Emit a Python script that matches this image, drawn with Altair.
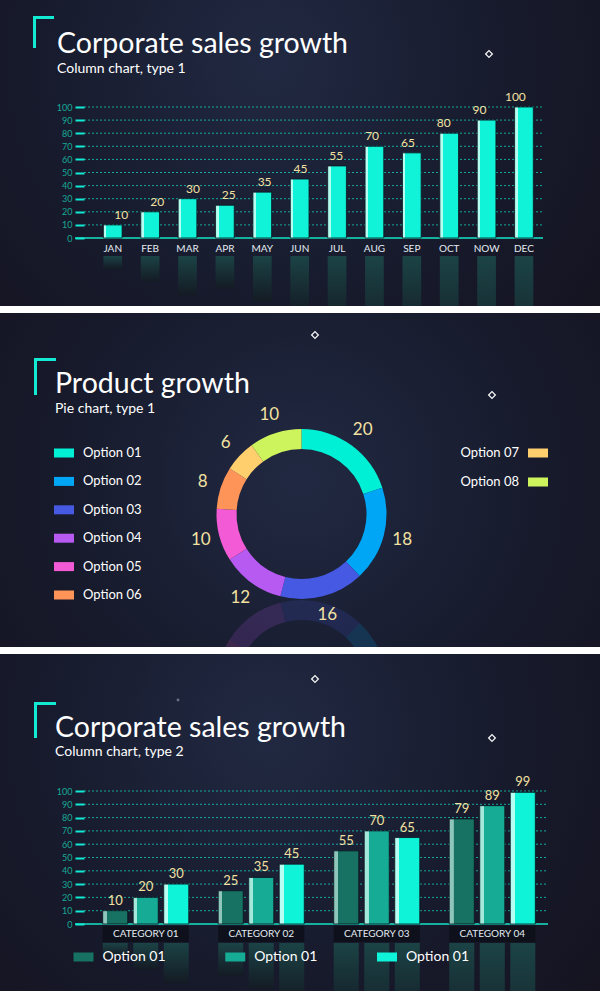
import math
import altair as alt
import pandas as pd

# ---------------- data ----------------
months = ["JAN", "FEB", "MAR", "APR", "MAY", "JUN", "JUL", "AUG", "SEP", "OCT", "NOW", "DEC"]
monthly_sales = [10, 20, 30, 25, 35, 45, 55, 70, 65, 80, 90, 100]
y_ticks = [0, 10, 20, 30, 40, 50, 60, 70, 80, 90, 100]

pie_options = ["Option 01", "Option 02", "Option 03", "Option 04",
               "Option 05", "Option 06", "Option 07", "Option 08"]
pie_values = [20, 18, 16, 12, 10, 8, 6, 10]
pie_colors = ["#00f0d6", "#00a6f6", "#4559e3", "#b65af2",
              "#f25ad6", "#ff9459", "#ffcf6e", "#cdf45d"]
legend_left = pie_options[:6]
legend_right = pie_options[6:]

categories = ["CATEGORY 01", "CATEGORY 02", "CATEGORY 03", "CATEGORY 04"]
series_ids = ["S1", "S2", "S3"]
series_labels = ["Option 01", "Option 01", "Option 01"]
series_s1 = [10, 25, 55, 79]
series_s2 = [20, 35, 70, 89]
series_s3 = [30, 45, 65, 99]
series_colors = ["#177263", "#15ab95", "#0ff3d8"]
series_light = ["#8fc6bc", "#a3e8da", "#b6fff2"]

# ---------------- style ----------------
FONT = "Lato"
TEAL = "#13ead4"
AXIS_LABEL = "#17a896"
VALUE_COLOR = "#f3e1a2"
W = 600
H1, H2, H3 = 306, 334, 337
TITLE_SIZE = 28.5


def bg(h, cx=0.45, cy=0.35):
    grad = {"gradient": "radial", "x1": cx, "y1": cy, "r1": 0, "x2": cx, "y2": cy, "r2": 0.75,
            "stops": [{"offset": 0, "color": "#212942"},
                      {"offset": 0.5, "color": "#171b2d"},
                      {"offset": 1, "color": "#15121e"}]}
    return alt.Chart(pd.DataFrame({"k": [0]})).mark_rect(fill=grad).encode(
        x=alt.value(0), x2=alt.value(W), y=alt.value(0), y2=alt.value(h))


def text_layer(txt, x, y, size, color="white", align="left", weight="normal"):
    return alt.Chart(pd.DataFrame({"t": [txt]})).mark_text(
        align=align, baseline="alphabetic", font=FONT, fontSize=size, color=color,
        fontWeight=weight).encode(x=alt.value(x), y=alt.value(y), text="t:N")


def bracket(x, y1, y2, x2):
    one = pd.DataFrame({"k": [0]})
    v = alt.Chart(one).mark_rule(color=TEAL, strokeWidth=3).encode(
        x=alt.value(x), y=alt.value(y1), y2=alt.value(y2))
    h = alt.Chart(one).mark_rule(color=TEAL, strokeWidth=3).encode(
        x=alt.value(x - 1.5), x2=alt.value(x2), y=alt.value(y1 + 1.5))
    return [v, h]


def diamond(x, y):
    return alt.Chart(pd.DataFrame({"k": [0]})).mark_point(
        shape="diamond", filled=False, color="white", strokeWidth=1.3, size=45, opacity=0.95
    ).encode(x=alt.value(x), y=alt.value(y))


def bar_grad(light, main, frac):
    return {"gradient": "linear", "x1": 0, "x2": 1, "y1": 0, "y2": 0,
            "stops": [{"offset": 0, "color": light}, {"offset": frac, "color": light},
                      {"offset": frac + 0.001, "color": main}, {"offset": 1, "color": main}]}


refl_grad = {"gradient": "linear", "x1": 0, "x2": 0, "y1": 0, "y2": 1,
             "stops": [{"offset": 0, "color": "#1b4345"}, {"offset": 1, "color": "#141a24"}]}


def y_axis():
    return alt.Axis(values=y_ticks, offset=-84, domain=False, grid=False, tickColor=TEAL,
                    tickWidth=2, tickSize=9, labelColor=AXIS_LABEL, labelFontSize=9,
                    labelFont=FONT, labelPadding=3, title=None, zindex=1)


# ---------------- panel 1 ----------------
df1 = pd.DataFrame({"month": months, "sales": monthly_sales})
ticks_df = pd.DataFrame({"v": y_ticks})
ys1 = alt.Scale(domain=[0, 100], range=[238, 107], nice=False)
xs1 = alt.Scale(domain=months, range=[103.4, 533.3], paddingInner=0.5, paddingOuter=0)

grid1 = alt.Chart(ticks_df).mark_rule(color="#18bfae", strokeDash=[2, 2], strokeWidth=1, opacity=0.85).encode(
    y=alt.Y("v:Q", scale=ys1, axis=y_axis()), x=alt.value(84), x2=alt.value(543))
base1 = alt.Chart(pd.DataFrame({"v": [0]})).mark_rule(color="#16b09e", strokeWidth=2).encode(
    y=alt.Y("v:Q", scale=ys1, axis=None), x=alt.value(75), x2=alt.value(543))
bars1 = alt.Chart(df1).mark_bar(fill=bar_grad("#b4fff2", "#10f3d8", 0.16), stroke="#0a1520", strokeWidth=0.8).encode(
    x=alt.X("month:N", scale=xs1, axis=alt.Axis(offset=-(H1 - 238), domain=False, ticks=False, tickSize=0,
                                                labelPadding=5, labelColor="#e4ecf2", labelFontSize=10,
                                                labelFont=FONT, labelAngle=0, title=None, zindex=1)),
    y=alt.Y("sales:Q", scale=ys1, axis=None))
vals1 = alt.Chart(df1).mark_text(baseline="bottom", dy=-3, color=VALUE_COLOR, fontSize=12, font=FONT).encode(
    x=alt.X("month:N", scale=xs1, axis=None), y=alt.Y("sales:Q", scale=ys1, axis=None), text="sales:Q")
refl1 = alt.Chart(df1).mark_bar(fill=refl_grad, clip=True).encode(
    x=alt.X("month:N", scale=xs1, axis=None),
    y=alt.Y("sales:Q", scale=alt.Scale(domain=[0, 100], range=[256, 387], nice=False), axis=None))

p1 = alt.layer(
    bg(H1), grid1, base1, refl1, bars1, vals1,
    *bracket(34.5, 16, 48, 54),
    text_layer("Corporate sales growth", 57, 53, TITLE_SIZE),
    text_layer("Column chart, type 1", 57, 73, 14),
    diamond(489, 54),
).resolve_scale(x="independent", y="independent").properties(width=W, height=H1)

# ---------------- panel 2 ----------------
pie_df = pd.DataFrame({"option": pie_options, "value": pie_values})
cscale = alt.Scale(domain=pie_options, range=pie_colors)
CX, CY = 301.5, 201

donut = alt.Chart(pie_df).mark_arc(innerRadius=65, outerRadius=85).encode(
    theta=alt.Theta("value:Q", stack=True),
    color=alt.Color("option:N", scale=cscale, legend=None),
    order=alt.Order("option:N", sort="ascending"),
    x=alt.value(CX), y=alt.value(CY))
donut_refl = alt.Chart(pie_df).mark_arc(innerRadius=65, outerRadius=85, opacity=0.17, clip=True).encode(
    theta=alt.Theta("value:Q", stack=True, scale=alt.Scale(range=[math.pi, -math.pi])),
    color=alt.Color("option:N", scale=cscale, legend=None),
    order=alt.Order("option:N", sort="ascending"),
    x=alt.value(CX), y=alt.value(372))
pie_labels = alt.Chart(pie_df).mark_text(radius=104, fontSize=17, color=VALUE_COLOR, font=FONT).encode(
    theta=alt.Theta("value:Q", stack=True),
    detail="option:N",
    order=alt.Order("option:N", sort="ascending"),
    text="value:Q",
    x=alt.value(CX), y=alt.value(CY))

ll_df = pd.DataFrame({"option": legend_left})
lr_df = pd.DataFrame({"option": legend_right})
yl = alt.Scale(type="point", domain=legend_left, range=[140, 282], padding=0)
yr = alt.Scale(type="point", domain=legend_right, range=[140, 169], padding=0)
sq_l = alt.Chart(ll_df).mark_tick(orient="horizontal", thickness=9, size=20, opacity=1).encode(
    x=alt.value(64), y=alt.Y("option:N", scale=yl, axis=None),
    color=alt.Color("option:N", scale=cscale, legend=None))
tx_l = alt.Chart(ll_df).mark_text(align="left", baseline="middle", fontSize=13, color="white", font=FONT).encode(
    x=alt.value(83), y=alt.Y("option:N", scale=yl, axis=None), text="option:N")
sq_r = alt.Chart(lr_df).mark_tick(orient="horizontal", thickness=9, size=20, opacity=1).encode(
    x=alt.value(538), y=alt.Y("option:N", scale=yr, axis=None),
    color=alt.Color("option:N", scale=cscale, legend=None))
tx_r = alt.Chart(lr_df).mark_text(align="right", baseline="middle", fontSize=13, color="white", font=FONT).encode(
    x=alt.value(519), y=alt.Y("option:N", scale=yr, axis=None), text="option:N")

p2 = alt.layer(
    bg(H2, 0.5, 0.5), donut_refl, donut, pie_labels, sq_l, tx_l, sq_r, tx_r,
    *bracket(35.5, 45, 82, 56),
    text_layer("Product growth", 55, 80, TITLE_SIZE),
    text_layer("Pie chart, type 1", 55, 100, 14),
    diamond(315, 22), diamond(492, 82),
).resolve_scale(x="independent", y="independent", theta="independent", color="shared").properties(width=W, height=H2)

# ---------------- panel 3 ----------------
rows = []
for sid, vals in zip(series_ids, [series_s1, series_s2, series_s3]):
    for cat, v in zip(categories, vals):
        rows.append({"category": cat, "series": sid, "value": v})
df3 = pd.DataFrame(rows)
cat_df = pd.DataFrame({"category": categories})
leg3_df = pd.DataFrame({"series": series_ids, "label": series_labels})

ys3 = alt.Scale(domain=[0, 100], range=[270, 137], nice=False)
xs3 = alt.Scale(domain=categories, range=[102.7, 535.3], paddingInner=0.255, paddingOuter=0)
xo3 = alt.Scale(domain=series_ids, paddingInner=0.18, paddingOuter=0)

grid3 = alt.Chart(ticks_df).mark_rule(color="#18bfae", strokeDash=[2, 2], strokeWidth=1, opacity=0.85).encode(
    y=alt.Y("v:Q", scale=ys3, axis=y_axis()), x=alt.value(84), x2=alt.value(548))
base3 = alt.Chart(pd.DataFrame({"v": [0]})).mark_rule(color="#16b09e", strokeWidth=2).encode(
    y=alt.Y("v:Q", scale=ys3, axis=None), x=alt.value(75), x2=alt.value(548))
catband = alt.Chart(cat_df).mark_bar(color="#0d0f19", opacity=0.85).encode(
    x=alt.X("category:N", scale=xs3, axis=alt.Axis(offset=-(H3 - 270), domain=False, ticks=False, tickSize=0,
                                                   labelPadding=4, labelColor="#e4ecf2", labelFontSize=10,
                                                   labelFont=FONT, labelAngle=0, title=None, zindex=1)),
    y=alt.value(272), y2=alt.value(288))
refl3 = alt.Chart(df3).mark_bar(fill=refl_grad, clip=True).encode(
    x=alt.X("category:N", scale=xs3, axis=None),
    xOffset=alt.XOffset("series:N", scale=xo3),
    y=alt.Y("value:Q", scale=alt.Scale(domain=[0, 100], range=[289, 422], nice=False), axis=None))
bars3 = []
for sid, main, light in zip(series_ids, series_colors, series_light):
    bars3.append(
        alt.Chart(df3).transform_filter(alt.datum.series == sid).mark_bar(
            fill=bar_grad(light, main, 0.17), stroke="#0a1520", strokeWidth=0.8).encode(
            x=alt.X("category:N", scale=xs3, axis=None),
            xOffset=alt.XOffset("series:N", scale=xo3),
            y=alt.Y("value:Q", scale=ys3, axis=None)))
vals3 = alt.Chart(df3).mark_text(baseline="bottom", dy=-3, color=VALUE_COLOR, fontSize=13, font=FONT).encode(
    x=alt.X("category:N", scale=xs3, axis=None),
    xOffset=alt.XOffset("series:N", scale=xo3),
    y=alt.Y("value:Q", scale=ys3, axis=None), text="value:Q")
lx3 = alt.Scale(type="point", domain=series_ids, range=[83.5, 387], padding=0)
sq3 = alt.Chart(leg3_df).mark_tick(orient="horizontal", thickness=9, size=20, opacity=1).encode(
    x=alt.X("series:N", scale=lx3, axis=None), y=alt.value(303),
    color=alt.Color("series:N", scale=alt.Scale(domain=series_ids, range=series_colors), legend=None))
tx3 = alt.Chart(leg3_df).mark_text(align="left", baseline="middle", dx=19, fontSize=14, color="white", font=FONT).encode(
    x=alt.X("series:N", scale=lx3, axis=None), y=alt.value(303), text="label:N")

p3 = alt.layer(
    bg(H3), grid3, base3, catband, refl3, *bars3, vals3, sq3, tx3,
    *bracket(35.5, 48, 84, 56),
    text_layer("Corporate sales growth", 55, 83, TITLE_SIZE),
    text_layer("Column chart, type 2", 55, 102, 14),
    diamond(315, 25), diamond(492, 84),
    alt.Chart(pd.DataFrame({"k": [0]})).mark_point(filled=True, color="#8a93a8", size=8).encode(
        x=alt.value(178), y=alt.value(46)),
).resolve_scale(x="independent", y="independent", color="independent").properties(width=W, height=H3)

chart = alt.vconcat(p1, p2, p3, spacing=7).properties(
    background="#ffffff", padding=0
).configure_view(stroke=None, strokeWidth=0)

chart.save("out.html", embed_options={"renderer": "svg", "actions": False})
